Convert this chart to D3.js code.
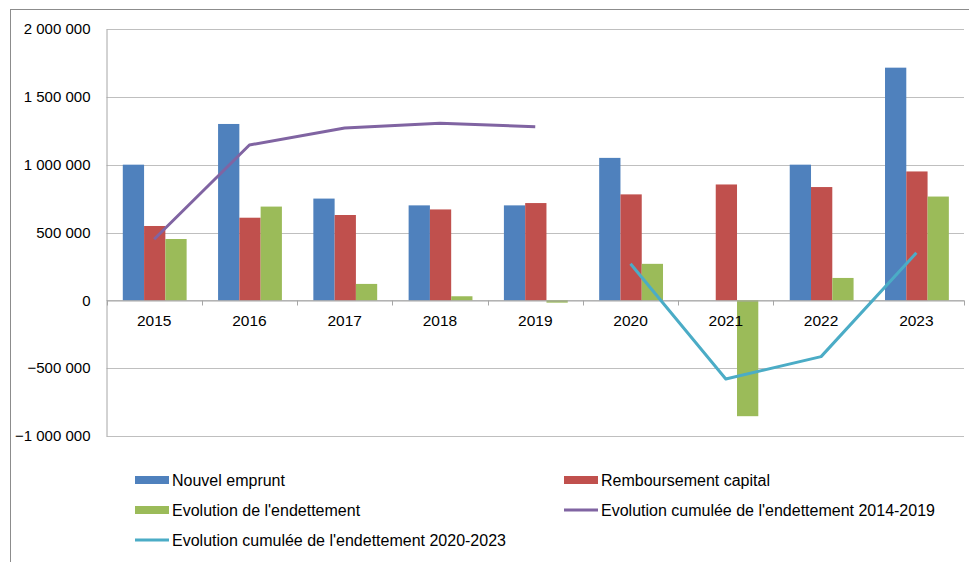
<!DOCTYPE html>
<html><head><meta charset="utf-8">
<script src="https://cdn.jsdelivr.net/npm/d3@7"></script>
<style>
html,body{margin:0;padding:0;background:#fff;}
svg{display:block;font-family:"Liberation Sans",Arial,sans-serif;}
</style></head>
<body>
<svg id="c" width="969" height="562"></svg>
<script>
const years = ["2015","2016","2017","2018","2019","2020","2021","2022","2023"];
const nouvelEmprunt = [1000000,1300000,750000,700000,700000,1050000,0,1000000,1715000];
const remboursement = [548000,609000,629000,670000,717000,781000,854000,835000,950000];
const evolution = [452000,691000,121000,30000,-17000,269000,-854000,165000,765000];
const cumul1419Years = ["2015","2016","2017","2018","2019"];
const cumul1419 = [450000,1145000,1270000,1305000,1280000];
const cumul2023Years = ["2020","2021","2022","2023"];
const cumul2023 = [270000,-580000,-415000,350000];
const yTicks = [-1000000,-500000,0,500000,1000000,1500000,2000000];
const barSeries = [
  {name:"Nouvel emprunt", values:nouvelEmprunt, color:"#4F81BD"},
  {name:"Remboursement capital", values:remboursement, color:"#C0504D"},
  {name:"Evolution de l'endettement", values:evolution, color:"#9BBB59"}
];
const lineSeries = [
  {name:"Evolution cumulée de l'endettement 2014-2019", years:cumul1419Years, values:cumul1419, color:"#8064A2"},
  {name:"Evolution cumulée de l'endettement 2020-2023", years:cumul2023Years, values:cumul2023, color:"#4BACC6"}
];

const svg = d3.select("#c");
// outer frame
svg.append("rect").attr("x",10.5).attr("y",9.5).attr("width",1000).attr("height",600)
  .attr("fill","none").attr("stroke","#8c8c8c").attr("stroke-width",1);

const L=106.5, R=964, T=29, B=436;
const x0 = d3.scaleBand().domain(years).range([L,R]).paddingInner(0).paddingOuter(0);
const bw = x0.bandwidth();
const x1 = d3.scaleBand().domain(barSeries.map(s=>s.name)).range([bw*0.171, bw*0.841]).padding(0);
const y = d3.scaleLinear().domain([-1000000,2000000]).range([B,T]);
const fmt = v => d3.format(",")(v).replace(/,/g," ");

// gridlines
svg.append("g").selectAll("line").data(yTicks).join("line")
  .attr("x1",L).attr("x2",R).attr("y1",d=>Math.round(y(d))+0.5).attr("y2",d=>Math.round(y(d))+0.5)
  .attr("stroke","#bfbfbf").attr("stroke-width",1);

// y axis
const ya = svg.append("g").attr("transform",`translate(${L},0)`)
  .call(d3.axisLeft(y).tickValues(yTicks).tickFormat(fmt).tickSize(0).tickPadding(16));
ya.select(".domain").attr("stroke","#a6a6a6");
ya.selectAll("text").attr("font-size",15).attr("fill","#000").attr("font-family","Liberation Sans, Arial, sans-serif");

// bars
barSeries.forEach(s=>{
  svg.append("g").selectAll("rect").data(years).join("rect")
    .attr("x",(d)=>x0(d)+x1(s.name))
    .attr("width",x1.bandwidth())
    .attr("y",(d,i)=>y(Math.max(0,s.values[i])))
    .attr("height",(d,i)=>Math.abs(y(s.values[i])-y(0)))
    .attr("fill",s.color);
});

// x axis at zero
const xa = svg.append("g").attr("transform",`translate(0,${Math.round(y(0))+0.5})`)
  .call(d3.axisBottom(x0).tickSize(0).tickPadding(14));
xa.select(".domain").attr("stroke","#a6a6a6");
xa.selectAll("text").attr("font-size",15.5).attr("fill","#000").attr("font-family","Liberation Sans, Arial, sans-serif");
xa.append("g").selectAll("line").data(years.concat(["end"])).join("line")
  .attr("x1",(d,i)=>Math.round(i<years.length?x0(d):R)+0.5)
  .attr("x2",(d,i)=>Math.round(i<years.length?x0(d):R)+0.5)
  .attr("y1",0).attr("y2",5).attr("stroke","#a6a6a6");

// lines
lineSeries.forEach(s=>{
  const line = d3.line().x((d,i)=>x0(s.years[i])+bw/2).y(d=>y(d));
  svg.append("path").datum(s.values).attr("d",line)
    .attr("fill","none").attr("stroke",s.color).attr("stroke-width",3).attr("stroke-linejoin","round");
});

// legend
const legendItems = [
  {name:barSeries[0].name, color:barSeries[0].color, type:"bar", x:135, y:480},
  {name:barSeries[1].name, color:barSeries[1].color, type:"bar", x:564, y:480},
  {name:barSeries[2].name, color:barSeries[2].color, type:"bar", x:135, y:510},
  {name:lineSeries[0].name, color:lineSeries[0].color, type:"line", x:564, y:510},
  {name:lineSeries[1].name, color:lineSeries[1].color, type:"line", x:135, y:540}
];
const lg = svg.append("g").selectAll("g").data(legendItems).join("g")
  .attr("transform",d=>`translate(${d.x},${d.y})`);
lg.each(function(d){
  const g = d3.select(this);
  if(d.type==="bar") g.append("rect").attr("x",0).attr("y",-4).attr("width",34).attr("height",8).attr("fill",d.color);
  else g.append("line").attr("x1",0).attr("x2",34).attr("y1",0).attr("y2",0).attr("stroke",d.color).attr("stroke-width",3);
  g.append("text").attr("x",37).attr("y",0).attr("dy","0.35em").attr("font-size",16).attr("fill","#000").text(d.name);
});
</script>
</body></html>
